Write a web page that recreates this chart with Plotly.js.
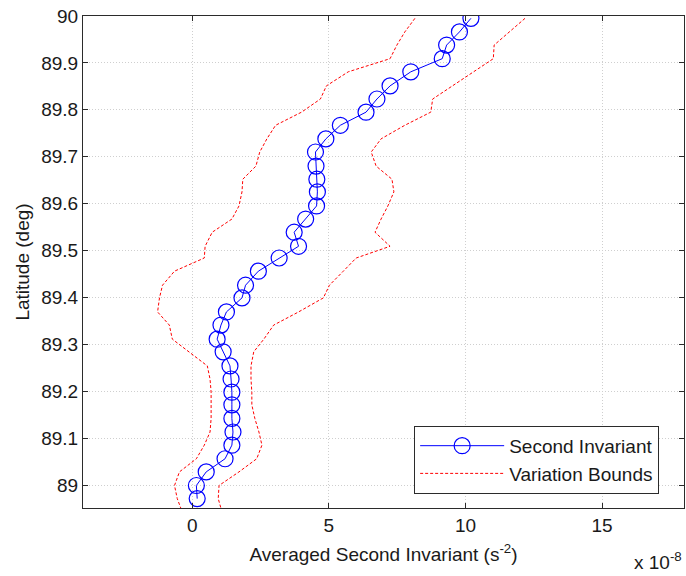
<!DOCTYPE html>
<html>
<head>
<meta charset="utf-8">
<script src="https://cdn.plot.ly/plotly-3.0.1.min.js"></script>
<style>html,body{margin:0;padding:0;background:#fff;}#chart{width:686px;height:576px;}</style>
</head>
<body>
<div id="chart"></div>
<script>
// Latitude (deg) of each averaged sample
const latitude = [89.995, 89.966, 89.938, 89.909, 89.881, 89.851, 89.823, 89.795, 89.767, 89.738,
  89.710, 89.680, 89.652, 89.625, 89.595, 89.567, 89.539, 89.509, 89.484, 89.456,
  89.426, 89.399, 89.369, 89.341, 89.311, 89.284, 89.254, 89.226, 89.198, 89.171,
  89.142, 89.113, 89.085, 89.056, 89.028, 88.999, 88.971];
// Averaged second invariant, in units of 1e-8 s^-2
const secondInvariant = [10.20, 9.78, 9.31, 9.15, 8.00, 7.24, 6.76, 6.36, 5.42, 4.89,
  4.51, 4.53, 4.56, 4.58, 4.55, 4.15, 3.73, 3.89, 3.18, 2.42,
  1.95, 1.82, 1.25, 1.05, 0.91, 1.13, 1.38, 1.42, 1.45, 1.45,
  1.45, 1.49, 1.45, 1.20, 0.51, 0.15, 0.18];
// Variation bounds (units of 1e-8 s^-2), with one extra latitude below the axis
const boundLatitude = latitude.concat([88.940]);
const lowerBound = [8.15, 7.78, 7.49, 7.24, 5.71, 4.91, 4.69, 4.00, 3.05, 2.73,
  2.47, 2.33, 1.85, 1.82, 1.71, 1.45, 0.73, 0.47, 0.44, -0.65,
  -1.09, -1.20, -1.27, -0.84, -0.73, -0.11, 0.55, 0.65, 0.69, 0.69,
  0.69, 0.65, 0.44, 0.15, -0.47, -0.65, -0.55, -0.35];
const upperBound = [12.18, 11.60, 11.05, 11.02, 10.29, 9.49, 8.80, 8.73, 7.78, 6.91,
  6.55, 6.73, 7.31, 7.38, 7.16, 6.91, 6.69, 7.24, 6.00, 5.53,
  5.02, 4.80, 3.89, 2.98, 2.62, 2.25, 2.15, 2.15, 2.18, 2.18,
  2.29, 2.44, 2.55, 2.36, 1.71, 0.98, 0.95, 1.10];
const xTicks = [0, 5, 10, 15];
const yTicks = [89, 89.1, 89.2, 89.3, 89.4, 89.5, 89.6, 89.7, 89.8, 89.9, 90];
const yTickText = ['89', '89.1', '89.2', '89.3', '89.4', '89.5', '89.6', '89.7', '89.8', '89.9', '90'];

const FONT = 'Liberation Sans, Arial, sans-serif';
const FS = 19;
const TXT = '#1a1a1a';
const redDash = {color: '#ff0000', width: 1, dash: '3px,2px'};

const traces = [
  {x: secondInvariant, y: latitude, type: 'scatter', mode: 'lines+markers',
   name: 'Second Invariant',
   line: {color: '#0000ff', width: 1},
   marker: {symbol: 'circle-open', size: 16, color: '#0000ff', line: {color: '#0000ff', width: 1.2}}},
  {x: lowerBound, y: boundLatitude, type: 'scatter', mode: 'lines',
   name: 'Variation Bounds', legendgroup: 'bounds', line: redDash},
  {x: upperBound, y: boundLatitude, type: 'scatter', mode: 'lines',
   name: 'Variation Bounds', legendgroup: 'bounds', showlegend: false, line: redDash}
];

const axisCommon = {
  showline: true, linecolor: '#2b2b2b', linewidth: 1, mirror: 'ticks',
  ticks: 'inside', ticklen: 5, tickcolor: '#2b2b2b', tickwidth: 1,
  showgrid: true, gridcolor: '#cfcfcf', griddash: '1px,2px', gridwidth: 1,
  zeroline: false, tickfont: {family: FONT, size: FS, color: TXT}
};

const layout = {
  width: 686, height: 576,
  margin: {l: 83, r: 2, t: 16, b: 68},
  paper_bgcolor: '#ffffff', plot_bgcolor: '#ffffff',
  showlegend: true,
  font: {family: FONT, size: FS, color: TXT},
  xaxis: Object.assign({}, axisCommon, {
    range: [-4, 18], tickmode: 'array', tickvals: xTicks, ticktext: xTicks.map(String),
    ticklabelstandoff: 0,
    title: {text: 'Averaged Second Invariant (s<sup>-2</sup>)', font: {family: FONT, size: FS, color: TXT}, standoff: 12}
  }),
  yaxis: Object.assign({}, axisCommon, {
    range: [88.951, 90], tickmode: 'array', tickvals: yTicks, ticktext: yTickText,
    title: {text: 'Latitude (deg)', font: {family: FONT, size: FS, color: TXT}, standoff: 6}
  }),
  legend: {
    x: 0.551, y: 0.167, xanchor: 'left', yanchor: 'top',
    bgcolor: '#ffffff', bordercolor: '#2b2b2b', borderwidth: 1,
    font: {family: FONT, size: FS, color: TXT},
    itemwidth: 84, tracegroupgap: 0
  },
  annotations: [{
    text: 'x 10<sup>-8</sup>', xref: 'paper', yref: 'paper', x: 1, y: -0.136,
    xanchor: 'right', yanchor: 'bottom', showarrow: false,
    font: {family: FONT, size: FS, color: TXT}
  }]
};

Plotly.newPlot('chart', traces, layout, {displayModeBar: false, staticPlot: true});
</script>
</body>
</html>
